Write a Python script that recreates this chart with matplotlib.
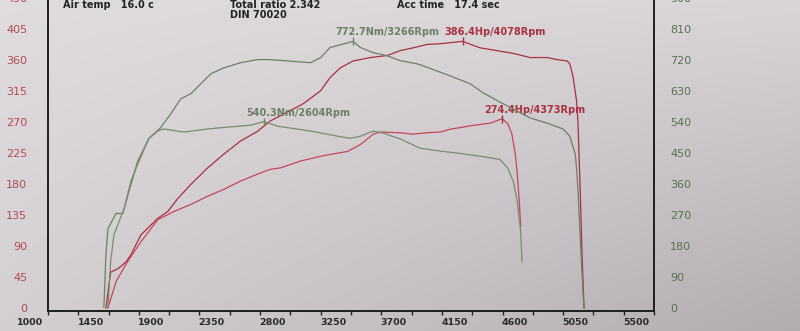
#! /usr/bin/env python3

# dyno sheet: two pulls, torque (Nm, right axis) and power (Hp, left axis)
import matplotlib
matplotlib.use("Agg")
import matplotlib.pyplot as plt
import matplotlib.transforms as mtransforms
import numpy as np

# run 1 (long pull, cut near 4980 rpm)
rpm_tq1 = [1415, 1430, 1445, 1505, 1555, 1595, 1665, 1750, 1835, 1910, 1985, 2060, 2135, 2210,
           2305, 2430, 2555, 2650, 2950, 3025, 3095, 3170, 3266, 3320, 3415, 3520, 3615, 3740,
           3840, 3985, 4135, 4230, 4370, 4580, 4705, 4825, 4875, 4915, 4925, 4935, 4950, 4965, 4980]
tq1 = [3, 154, 230, 274, 274, 329, 425, 492, 522, 562, 606, 621, 650, 679,
       696, 711, 720, 720, 711, 726, 755, 763, 772.7, 755, 740, 731, 717, 708,
       694, 673, 650, 624, 594, 551, 536, 519, 498, 446, 405, 347, 221, 105, 0]

rpm_hp1 = [1430, 1465, 1520, 1580, 1615, 1690, 1815, 1890, 1965, 2060, 2185, 2305, 2430, 2555,
           2650, 2895, 3025, 3095, 3170, 3265, 3395, 3520, 3615, 3710, 3815, 3910, 4078, 4210,
           4335, 4455, 4580, 4705, 4780, 4855, 4875, 4900, 4925, 4935, 4950, 4965, 4980]
hp1 = [0, 52, 57, 67, 77, 106, 130, 140, 159, 179, 203, 223, 242, 256,
       271, 296, 315, 334, 348, 358, 363, 366, 373, 377, 382, 383, 386.4, 377,
       373, 369, 363, 363, 360, 358, 354, 334, 300, 271, 184, 82, 0]

# run 2 (short pull, cut near 4520 rpm)
rpm_tq2 = [1445, 1465, 1490, 1565, 1615, 1675, 1750, 1815, 1860, 2010, 2185, 2355, 2505, 2604,
           2705, 2950, 3150, 3245, 3320, 3415, 3490, 3615, 3765, 3910, 4040, 4210, 4355, 4415,
           4455, 4485, 4490, 4510, 4520]
tq2 = [0, 134, 213, 288, 367, 425, 492, 513, 519, 510, 519, 525, 530, 540.3,
       527, 513, 498, 492, 498, 513, 507, 490, 463, 455, 449, 440, 431, 405,
       367, 309, 288, 221, 134]

rpm_hp2 = [1445, 1505, 1580, 1690, 1815, 1935, 2060, 2185, 2305, 2430, 2555, 2650, 2725, 2875,
           3025, 3225, 3320, 3415, 3470, 3615, 3710, 3815, 3910, 3985, 4135, 4285, 4373, 4415,
           4445, 4470, 4485, 4500, 4510]
hp2 = [0, 38, 64, 96, 128, 140, 150, 162, 172, 184, 194, 201, 203, 213,
       220, 227, 237, 252, 255, 254, 252, 254, 255, 259, 264, 268, 274.4, 267,
       252, 223, 194, 154, 118]

# peak markers
tq_peak_rpm = [3266, 2604]
tq_peak = [772.7, 540.3]
hp_peak_rpm = [4078, 4373]
hp_peak = [386.4, 274.4]

# axes ticks
x_ticks = np.arange(1000, 5501, 450)
hp_ticks = np.arange(0, 451, 45)
nm_ticks = np.arange(0, 901, 90)

green1 = '#6c8063'
green2 = '#7a8b6d'
red1 = '#a8303f'
red2 = '#c8445b'

fig = plt.figure(figsize=(8, 3.31), dpi=100)

# paper background (photo, darker to the lower right)
bg = fig.add_axes([0, 0, 1, 1], zorder=-5)
gx, gy = np.meshgrid(np.linspace(0, 1, 200), np.linspace(0, 1, 100))
tl = np.array([0.88, 0.865, 0.87])
tr = np.array([0.85, 0.835, 0.845])
bl = np.array([0.83, 0.815, 0.82])
br = np.array([0.70, 0.675, 0.69])
grad = ((1 - gx)[..., None] * (1 - gy)[..., None] * tl + gx[..., None] * (1 - gy)[..., None] * tr
        + (1 - gx)[..., None] * gy[..., None] * bl + gx[..., None] * gy[..., None] * br)
bg.imshow(grad, aspect='auto', extent=(0, 1, 0, 1), origin='upper')
bg.set_axis_off()

ax = fig.add_axes([48 / 800, 20 / 331, 606 / 800, 320.4 / 331])
ax.patch.set_visible(False)
ax2 = ax.twinx()
ax2.patch.set_visible(False)

ax.set_xlim(1000, 5500)
ax.set_ylim(-4.3, 460)
ax2.set_ylim(-8.6, 920)

# power on the left scale
ax.plot(rpm_hp1, hp1, color=red1, lw=0.9)
ax.plot(rpm_hp2, hp2, color=red2, lw=0.9)
# torque on the right scale
ax2.plot(rpm_tq1, tq1, color=green1, lw=0.9)
ax2.plot(rpm_tq2, tq2, color=green2, lw=0.9)

ax.plot(hp_peak_rpm, hp_peak, ls='none', marker='|', ms=6, mew=1, color=red1)
ax2.plot(tq_peak_rpm, tq_peak, ls='none', marker='|', ms=6, mew=1, color=green1)

for r, v in zip(hp_peak_rpm, hp_peak):
    ax.annotate(f"{v}Hp/{r}Rpm", (r, v), xytext=(-13, 6.5), textcoords='offset points',
                ha='left', va='center', color=red1, fontsize=7, fontweight='bold')
for r, v in zip(tq_peak_rpm, tq_peak):
    ax2.annotate(f"{v}Nm/{r}Rpm", (r, v), xytext=(-13, 6.5), textcoords='offset points',
                 ha='left', va='center', color=green1, fontsize=7, fontweight='bold')

# x axis: labelled every 450 rpm, extra tick halfway
ax.set_xticks(x_ticks)
ax.set_xticks(x_ticks[:-1] + 225, minor=True)
ax.tick_params(axis='x', which='both', direction='out', length=3, width=1, color='#222222',
               pad=2, labelsize=6.8, labelcolor='#2a2a2a')
for lab in ax.get_xticklabels():
    lab.set_fontweight('bold')
    lab.set_transform(lab.get_transform() + mtransforms.ScaledTranslation(-0.18, 0, fig.dpi_scale_trans))

ax.set_yticks(hp_ticks)
ax.tick_params(axis='y', length=0, pad=15, labelsize=8, labelcolor='#b4485a')
ax2.set_yticks(nm_ticks)
ax2.tick_params(axis='y', length=0, pad=11.5, labelsize=8, labelcolor='#5d6f4e')

for a in (ax, ax2):
    a.spines['top'].set_visible(False)
    for s in ('left', 'bottom', 'right'):
        a.spines[s].set_color('#1e1e1e')
        a.spines[s].set_linewidth(1.2)

# header of the printout
hdr = dict(fontsize=7, fontweight='bold', color='#232323', va='center', ha='left')
fig.text(63 / 800, 1 - 5 / 331, "Air temp   16.0 c", **hdr)
fig.text(230 / 800, 1 - 5 / 331, "Total ratio 2.342", **hdr)
fig.text(230 / 800, 1 - 15 / 331, "DIN 70020", **hdr)
fig.text(397 / 800, 1 - 5 / 331, "Acc time   17.4 sec", **hdr)

fig.savefig("out.png", dpi=100)
